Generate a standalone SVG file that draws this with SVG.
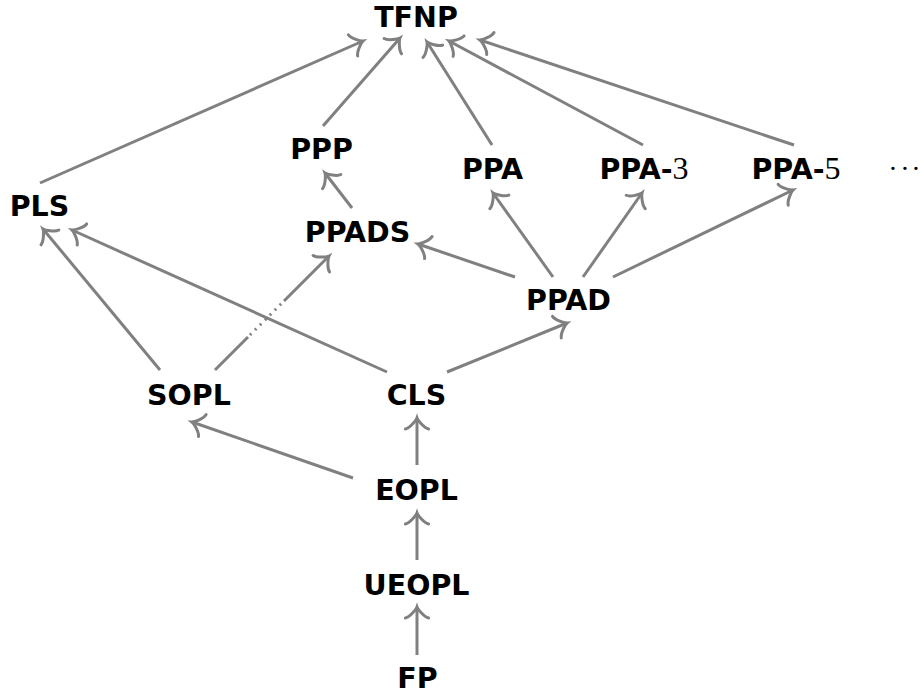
<svg xmlns="http://www.w3.org/2000/svg" width="921" height="695" viewBox="0 0 921 695">
<style>
.n{font-family:"DejaVu Sans",sans-serif;font-weight:bold;font-size:28.5px;fill:#000;text-anchor:middle}
.m{font-family:"Liberation Serif",serif;font-weight:normal;font-size:32px}
.e{stroke:#808080;stroke-width:3;fill:none;marker-end:url(#a)}
.s{stroke:#808080;stroke-width:3;fill:none}
.d{stroke:#808080;stroke-width:3;fill:none;stroke-dasharray:2 5}
</style>
<defs>
<marker id="a" markerUnits="userSpaceOnUse" orient="auto" refX="0" refY="0" markerWidth="30" markerHeight="30" overflow="visible">
<path d="M -10.9,-11.6 C -10.15,-7.25 -2.2,-0.73 0,0 C -2.2,0.73 -10.15,7.25 -10.9,11.6" fill="none" stroke="#808080" stroke-width="3" stroke-linecap="round"/>
</marker>
</defs>
<rect width="921" height="695" fill="#fff"/>
<g id="connectors">
<path class="e" d="M40,183 L363,41"/>
<path class="e" d="M323,126 L400,38"/>
<path class="e" d="M492,145 L427,42"/>
<path class="e" d="M643,145 L449,41"/>
<path class="e" d="M794,145 L480,40"/>
<path class="e" d="M352,208 L325,173"/>
<path class="e" d="M515,277 L418,244"/>
<path class="e" d="M553,277 L493,193"/>
<path class="e" d="M583,277 L642,193"/>
<path class="e" d="M613,277 L793,190"/>
<path class="e" d="M160,370 L43,229"/>
<path class="e" d="M387,372 L72,230"/>
<path class="s" d="M215,370 L248,337"/>
<path class="d" d="M250,335 L283,302"/>
<path class="e" d="M284,301 L329,256"/>
<path class="e" d="M447,372 L567,323"/>
<path class="e" d="M353,478 L192,422"/>
<path class="e" d="M417,465 L417,418"/>
<path class="e" d="M417,560 L417,513"/>
<path class="e" d="M417,655 L417,607"/>
</g>
<g id="TFNP"><text class="n" x="416" y="27">TFNP</text></g>
<g id="PPP"><text class="n" x="321.5" y="159">PPP</text></g>
<g id="PPA"><text class="n" x="492.5" y="179">PPA</text></g>
<g id="PPA-3"><text class="n" x="644" y="179">PPA-<tspan class="m">3</tspan></text></g>
<g id="PPA-5"><text class="n" x="796" y="179">PPA-<tspan class="m">5</tspan></text></g>
<g id="dots"><text class="m" x="893 905 916" y="178" font-size="28" style="font-size:28px" text-anchor="middle">···</text></g>
<g id="PLS"><text class="n" x="39.5" y="216">PLS</text></g>
<g id="PPADS"><text class="n" x="357.5" y="242">PPADS</text></g>
<g id="PPAD"><text class="n" x="568.5" y="310">PPAD</text></g>
<g id="SOPL"><text class="n" x="189" y="405">SOPL</text></g>
<g id="CLS"><text class="n" x="416.5" y="405">CLS</text></g>
<g id="EOPL"><text class="n" x="416.5" y="500">EOPL</text></g>
<g id="UEOPL"><text class="n" x="416.5" y="595">UEOPL</text></g>
<g id="FP"><text class="n" x="417.5" y="688">FP</text></g>
</svg>
